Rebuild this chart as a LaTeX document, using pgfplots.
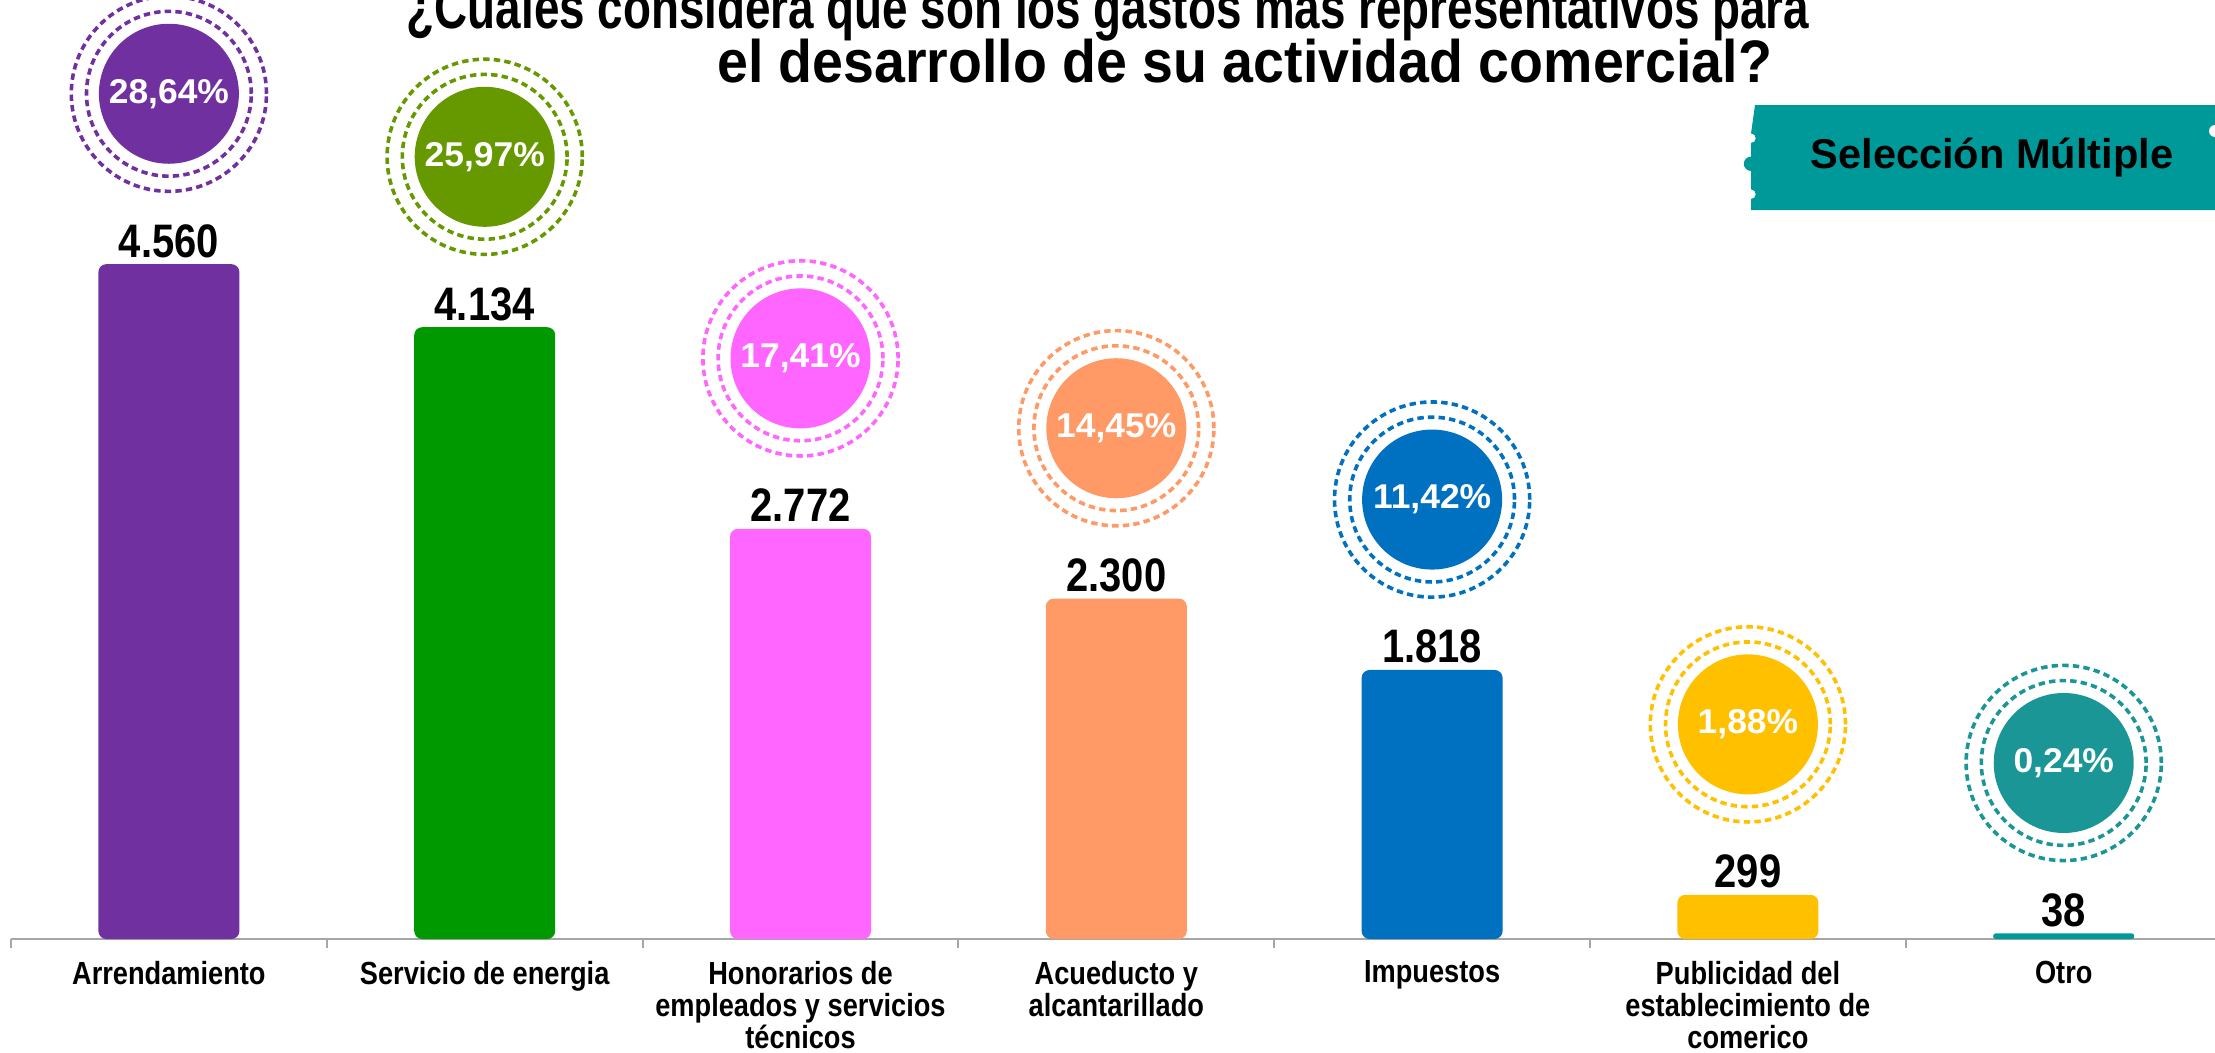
\documentclass[border=0pt]{standalone}
\usepackage{pgfplots}
\pgfplotsset{compat=1.18}
\usepackage{fontspec}
\setmainfont{Liberation Sans}
\newfontfamily\narrowfont[FakeStretch=0.85]{Liberation Sans}
\newfontfamily\widefont[FakeStretch=1.03]{Liberation Sans}
\definecolor{cPur}{HTML}{7030A0}
\definecolor{cGrnBar}{HTML}{009900}
\definecolor{cGrnC}{HTML}{669900}
\definecolor{cPink}{HTML}{FF66FF}
\definecolor{cOrg}{HTML}{FF9966}
\definecolor{cBlue}{HTML}{0070C0}
\definecolor{cYel}{HTML}{FFC000}
\definecolor{cTealBar}{HTML}{009999}
\definecolor{cTealC}{HTML}{1A9696}
\definecolor{cBadge}{HTML}{009999}
\definecolor{axisgray}{HTML}{A6A6A6}
\newcommand\valfont{\narrowfont\bfseries\fontsize{11.75}{12}\selectfont}
\newcommand\pctfont{\widefont\bfseries\fontsize{8.6}{9}\selectfont}
\newcommand\catfont{\narrowfont\bfseries\fontsize{8}{8.1}\selectfont}
\newcommand\circshift{42.6pt}
% #1 x, #2 value, #3 bar colour, #4 circle colour, #5 percent, #6 value label, #7 corner radius
\newcommand\cat[7]{%
  \addplot[ybar, bar shift=0pt, bar width=35.25pt, fill=#3, draw=none, rounded corners=#7,
    nodes near coords={#6},
    every node near coord/.append style={anchor=base, yshift=1.75pt, font=\valfont, text=black}]
    coordinates {(#1,#2)};
  \addplot[only marks, mark=*, mark size=17.3pt, color=#4,
    mark options={yshift=\circshift, fill=#4, draw=none}]
    coordinates {(#1,#2)};
  \addplot[only marks, mark=o, mark size=20.6pt, color=#4,
    mark options={yshift=\circshift, draw=#4, line width=0.9pt, dash pattern=on 1.6pt off 1.05pt}]
    coordinates {(#1,#2)};
  \addplot[only marks, mark=o, mark size=24.4pt, color=#4,
    mark options={yshift=\circshift, draw=#4, line width=0.9pt, dash pattern=on 1.6pt off 1.05pt}]
    coordinates {(#1,#2)};
  \addplot[only marks, mark=none,
    nodes near coords={#5},
    every node near coord/.append style={anchor=center, yshift=\circshift, font=\pctfont, text=white}]
    coordinates {(#1,#2)};
}
\begin{document}
\begin{tikzpicture}
\useasboundingbox (-2.75pt,-28.25pt) rectangle (551pt,234.75pt);
\clip (-2.75pt,-28.25pt) rectangle (551pt,234.75pt);
\begin{axis}[
  at={(0,0)}, anchor=south west,
  scale only axis, width=551pt, height=234.75pt,
  xmin=-0.5, xmax=6.479, ymin=0, ymax=6345,
  clip=false,
  axis y line=none,
  axis x line*=bottom,
  x axis line style={color=axisgray, line width=0.7pt},
  xtick={0,...,6},
  xticklabels={Arrendamiento, Servicio de energia, {Honorarios de\\empleados y servicios\\técnicos}, {Acueducto y\\alcantarillado}, Impuestos, {Publicidad del\\establecimiento de\\comerico}, Otro},
  major tick length=0pt,
  minor xtick={-0.5,0.5,...,6.5},
  minor tick length=2.25pt,
  tick align=outside,
  minor x tick style={color=axisgray, line width=0.5pt},
  xticklabel style={font=\catfont, align=center, anchor=north, inner sep=0pt, yshift=-5.25pt},
]
\cat{0}{4560}{cPur}{cPur}{28,64\%}{4.560}{2pt}
\cat{1}{4134}{cGrnBar}{cGrnC}{25,97\%}{4.134}{2pt}
\cat{2}{2772}{cPink}{cPink}{17,41\%}{2.772}{2pt}
\cat{3}{2300}{cOrg}{cOrg}{14,45\%}{2.300}{2pt}
\cat{4}{1818}{cBlue}{cBlue}{11,42\%}{1.818}{2pt}
\cat{5}{299}{cYel}{cYel}{1,88\%}{299}{2pt}
\cat{6}{38}{cTealBar}{cTealC}{0,24\%}{38}{0.6pt}
\end{axis}
% title
\node[anchor=base, font=\narrowfont\bfseries\fontsize{15}{15}\selectfont, inner sep=0pt] at (274.25pt,227.75pt) {\scalebox{0.898}[1]{¿Cuales considera que son los gastos mas representativos para}};
\node[anchor=base, font=\narrowfont\bfseries\fontsize{15}{15}\selectfont, inner sep=0pt] at (308.4pt,214.25pt) {\scalebox{1.088}[1]{el desarrollo de su actividad comercial?}};
% badge
\fill[cBadge] (436pt,208.5pt) -- (556pt,208.5pt) -- (556pt,182.25pt) -- (435pt,182.25pt)
  -- (435pt,185pt) arc[start angle=-90, end angle=90, radius=1.2pt]
  -- (435pt,192pt) arc[start angle=270, end angle=90, radius=1.8pt]
  -- (435pt,199pt) arc[start angle=-90, end angle=90, radius=1.2pt]
  -- (436pt,208.5pt) -- cycle;
\fill[white] (551pt,202pt) circle (1.5pt);
\node[font=\bfseries\fontsize{10.4}{11}\selectfont, inner sep=0pt] at (495.25pt,195.25pt) {Selección Múltiple};
\end{tikzpicture}
\end{document}
